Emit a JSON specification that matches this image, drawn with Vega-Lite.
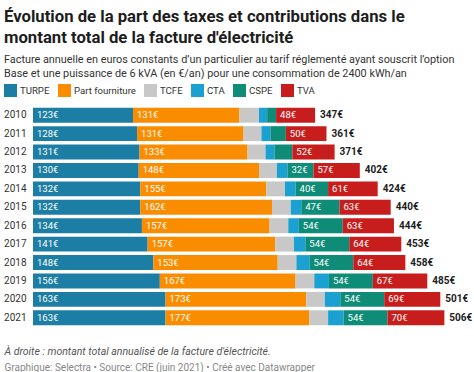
{
  "$schema": "https://vega.github.io/schema/vega-lite/v6.json",
  "width": 439,
  "height": 221,
  "autosize": {"type": "none"},
  "padding": {"left": 33, "top": 106, "right": 2, "bottom": 45},
  "background": "white",
  "title": {
    "text": ["Évolution de la part des taxes et contributions dans le", "montant total de la facture d'électricité"],
    "subtitle": ["Facture annuelle en euros constants d’un particulier au tarif réglementé ayant souscrit l’option", "Base et une puissance de 6 kVA (en €/an) pour une consommation de 2400 kWh/an"],
    "anchor": "start",
    "frame": "group",
    "dx": -29,
    "fontSize": 16.7,
    "fontWeight": "bold",
    "color": "#1d1d1d",
    "lineHeight": 21,
    "subtitleFontSize": 10.85,
    "subtitleColor": "#333333",
    "subtitleLineHeight": 14,
    "subtitlePadding": 7,
    "offset": 5
  },
  "config": {
    "font": "Roboto",
    "view": {"stroke": null},
    "locale": {"number": {"decimal": ",", "thousands": " ", "grouping": [3], "currency": ["", "€"]}}
  },
  "data": {"values": [
    {"year": "2010", "component": "TURPE", "ord": 1, "value": 123},
    {"year": "2010", "component": "Part fourniture", "ord": 2, "value": 131},
    {"year": "2010", "component": "TCFE", "ord": 3, "value": 24},
    {"year": "2010", "component": "CTA", "ord": 4, "value": 10},
    {"year": "2010", "component": "CSPE", "ord": 5, "value": 11},
    {"year": "2010", "component": "TVA", "ord": 6, "value": 48},
    {"year": "2011", "component": "TURPE", "ord": 1, "value": 128},
    {"year": "2011", "component": "Part fourniture", "ord": 2, "value": 131},
    {"year": "2011", "component": "TCFE", "ord": 3, "value": 22},
    {"year": "2011", "component": "CTA", "ord": 4, "value": 11},
    {"year": "2011", "component": "CSPE", "ord": 5, "value": 19},
    {"year": "2011", "component": "TVA", "ord": 6, "value": 50},
    {"year": "2012", "component": "TURPE", "ord": 1, "value": 131},
    {"year": "2012", "component": "Part fourniture", "ord": 2, "value": 133},
    {"year": "2012", "component": "TCFE", "ord": 3, "value": 22},
    {"year": "2012", "component": "CTA", "ord": 4, "value": 11},
    {"year": "2012", "component": "CSPE", "ord": 5, "value": 22},
    {"year": "2012", "component": "TVA", "ord": 6, "value": 52},
    {"year": "2013", "component": "TURPE", "ord": 1, "value": 130},
    {"year": "2013", "component": "Part fourniture", "ord": 2, "value": 148},
    {"year": "2013", "component": "TCFE", "ord": 3, "value": 22},
    {"year": "2013", "component": "CTA", "ord": 4, "value": 13},
    {"year": "2013", "component": "CSPE", "ord": 5, "value": 32},
    {"year": "2013", "component": "TVA", "ord": 6, "value": 57},
    {"year": "2014", "component": "TURPE", "ord": 1, "value": 132},
    {"year": "2014", "component": "Part fourniture", "ord": 2, "value": 155},
    {"year": "2014", "component": "TCFE", "ord": 3, "value": 23},
    {"year": "2014", "component": "CTA", "ord": 4, "value": 13},
    {"year": "2014", "component": "CSPE", "ord": 5, "value": 40},
    {"year": "2014", "component": "TVA", "ord": 6, "value": 61},
    {"year": "2015", "component": "TURPE", "ord": 1, "value": 132},
    {"year": "2015", "component": "Part fourniture", "ord": 2, "value": 162},
    {"year": "2015", "component": "TCFE", "ord": 3, "value": 23},
    {"year": "2015", "component": "CTA", "ord": 4, "value": 13},
    {"year": "2015", "component": "CSPE", "ord": 5, "value": 47},
    {"year": "2015", "component": "TVA", "ord": 6, "value": 63},
    {"year": "2016", "component": "TURPE", "ord": 1, "value": 134},
    {"year": "2016", "component": "Part fourniture", "ord": 2, "value": 157},
    {"year": "2016", "component": "TCFE", "ord": 3, "value": 23},
    {"year": "2016", "component": "CTA", "ord": 4, "value": 13},
    {"year": "2016", "component": "CSPE", "ord": 5, "value": 54},
    {"year": "2016", "component": "TVA", "ord": 6, "value": 63},
    {"year": "2017", "component": "TURPE", "ord": 1, "value": 141},
    {"year": "2017", "component": "Part fourniture", "ord": 2, "value": 157},
    {"year": "2017", "component": "TCFE", "ord": 3, "value": 23},
    {"year": "2017", "component": "CTA", "ord": 4, "value": 14},
    {"year": "2017", "component": "CSPE", "ord": 5, "value": 54},
    {"year": "2017", "component": "TVA", "ord": 6, "value": 64},
    {"year": "2018", "component": "TURPE", "ord": 1, "value": 148},
    {"year": "2018", "component": "Part fourniture", "ord": 2, "value": 153},
    {"year": "2018", "component": "TCFE", "ord": 3, "value": 23},
    {"year": "2018", "component": "CTA", "ord": 4, "value": 16},
    {"year": "2018", "component": "CSPE", "ord": 5, "value": 54},
    {"year": "2018", "component": "TVA", "ord": 6, "value": 64},
    {"year": "2019", "component": "TURPE", "ord": 1, "value": 156},
    {"year": "2019", "component": "Part fourniture", "ord": 2, "value": 167},
    {"year": "2019", "component": "TCFE", "ord": 3, "value": 23},
    {"year": "2019", "component": "CTA", "ord": 4, "value": 18},
    {"year": "2019", "component": "CSPE", "ord": 5, "value": 54},
    {"year": "2019", "component": "TVA", "ord": 6, "value": 67},
    {"year": "2020", "component": "TURPE", "ord": 1, "value": 163},
    {"year": "2020", "component": "Part fourniture", "ord": 2, "value": 173},
    {"year": "2020", "component": "TCFE", "ord": 3, "value": 23},
    {"year": "2020", "component": "CTA", "ord": 4, "value": 19},
    {"year": "2020", "component": "CSPE", "ord": 5, "value": 54},
    {"year": "2020", "component": "TVA", "ord": 6, "value": 69},
    {"year": "2021", "component": "TURPE", "ord": 1, "value": 163},
    {"year": "2021", "component": "Part fourniture", "ord": 2, "value": 177},
    {"year": "2021", "component": "TCFE", "ord": 3, "value": 23},
    {"year": "2021", "component": "CTA", "ord": 4, "value": 19},
    {"year": "2021", "component": "CSPE", "ord": 5, "value": 54},
    {"year": "2021", "component": "TVA", "ord": 6, "value": 70}
  ]},
  "transform": [
    {"stack": "value", "groupby": ["year"], "sort": [{"field": "ord", "order": "ascending"}], "as": ["v0", "v1"]}
  ],
  "encoding": {
    "y": {
      "field": "year", "type": "ordinal", "title": null,
      "scale": {"paddingInner": 0.19, "paddingOuter": 0.095},
      "axis": {"ticks": false, "domain": false, "labelPadding": 7, "labelFontSize": 10, "labelColor": "#333333"}
    }
  },
  "layer": [
    {
      "mark": {"type": "bar"},
      "encoding": {
        "x": {
          "field": "v0", "type": "quantitative", "scale": {"domain": [0, 540], "nice": false},
          "axis": {"labels": false, "ticks": false, "domain": false, "grid": false,
                   "title": "À droite : montant total annualisé de la facture d'électricité.",
                   "titleFontStyle": "italic", "titleFontWeight": "normal", "titleFontSize": 10.5, "titleColor": "#555555",
                   "titleAnchor": "start", "titleAlign": "left", "titleX": -29, "titlePadding": 19}
        },
        "x2": {"field": "v1"},
        "color": {
          "field": "component", "type": "nominal",
          "scale": {
            "domain": ["TURPE", "Part fourniture", "TCFE", "CTA", "CSPE", "TVA"],
            "range": ["#1d7ea5", "#fa8c00", "#c8c8c8", "#1aa1d1", "#0f8c78", "#c71e1d"]
          },
          "legend": {
            "title": null, "orient": "none", "legendX": -29, "legendY": -22, "direction": "horizontal",
            "symbolType": "square", "symbolSize": 169, "symbolStrokeWidth": 0, "symbolOpacity": 1,
            "labelFontSize": 9.6, "labelColor": "#333333", "labelOffset": 3, "columnPadding": 8
          }
        }
      }
    },
    {
      "transform": [{"filter": "datum.component === 'TURPE' || datum.component === 'Part fourniture' || datum.component === 'TVA' || (datum.component === 'CSPE' && datum.value >= 30)"}],
      "mark": {"type": "text", "align": "left", "baseline": "middle", "dx": 4, "color": "white", "fontSize": 9.5},
      "encoding": {
        "x": {"field": "v0", "type": "quantitative", "axis": null},
        "text": {"field": "value", "type": "quantitative", "format": "$d"}
      }
    },
    {
      "transform": [{"filter": "datum.component === 'TVA'"}],
      "mark": {"type": "text", "align": "left", "baseline": "middle", "dx": 5, "color": "#1d1d1d", "fontSize": 10, "fontWeight": "bold"},
      "encoding": {
        "x": {"field": "v1", "type": "quantitative",
              "axis": {"orient": "bottom", "offset": 35, "labels": false, "ticks": false, "domain": false, "grid": false,
                       "title": "Graphique: Selectra • Source: CRE (juin 2021) • Créé avec Datawrapper",
                       "titleFontWeight": "normal", "titleFontSize": 10, "titleColor": "#888888",
                       "titleAnchor": "start", "titleAlign": "left", "titleX": -29, "titlePadding": 0}},
        "text": {"field": "v1", "type": "quantitative", "format": "$d"}
      }
    }
  ],
  "resolve": {"axis": {"x": "independent"}}
}
